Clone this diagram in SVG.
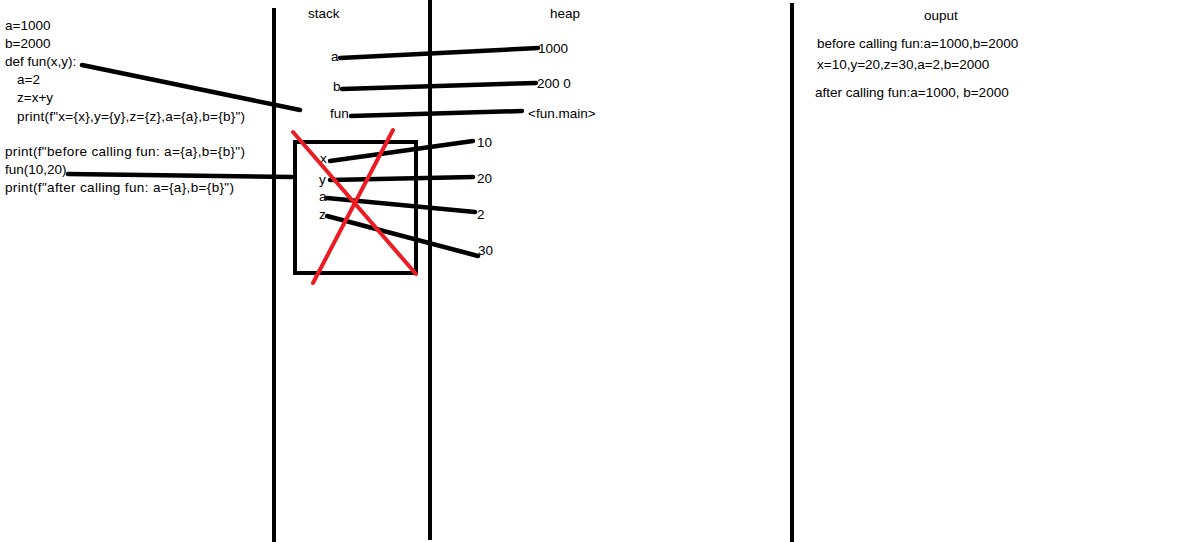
<svg xmlns="http://www.w3.org/2000/svg" width="1191" height="542" viewBox="0 0 1191 542">
<style>
text{font-family:"Liberation Sans",Arial,sans-serif;font-size:13.5px;fill:#000}
.k{stroke:#000;stroke-width:4.5;stroke-linecap:round;fill:none}
.v{stroke:#000;stroke-width:4;fill:none}
.r{stroke:#ed1c24;stroke-width:4;stroke-linecap:round;fill:none}
</style>
<rect width="1191" height="542" fill="#fff"/>
<g id="dividers">
<line class="v" x1="274" y1="8" x2="274" y2="542"/>
<line class="v" x1="430" y1="0" x2="430" y2="540"/>
<line class="v" x1="792" y1="3" x2="792" y2="542"/>
</g>
<g id="headers">
<text x="308" y="18">stack</text>
<text x="550" y="18">heap</text>
<text x="924" y="20">ouput</text>
</g>
<g id="code">
<text x="5" y="30">a=1000</text>
<text x="5" y="48">b=2000</text>
<text x="5" y="66">def fun(x,y):</text>
<text x="17" y="84">a=2</text>
<text x="17" y="102">z=x+y</text>
<text x="17" y="121" textLength="228" lengthAdjust="spacing">print(f"x={x},y={y},z={z},a={a},b={b}")</text>
<text x="5" y="156" textLength="240" lengthAdjust="spacing">print(f"before calling fun: a={a},b={b}")</text>
<text x="5" y="174">fun(10,20)</text>
<text x="5" y="192" textLength="229" lengthAdjust="spacing">print(f"after calling fun: a={a},b={b}")</text>
</g>
<g id="stack-frame">
<rect class="v" x="295" y="142" width="121" height="131"/>
<text x="320" y="163">x</text>
<text x="319" y="184">y</text>
<text x="319" y="201">a</text>
<text x="319" y="219">z</text>
</g>
<g id="stack-globals">
<text x="331" y="61">a</text>
<text x="333" y="91">b</text>
<text x="330" y="118">fun</text>
</g>
<g id="heap">
<text x="538" y="53">1000</text>
<text x="537" y="88">200 0</text>
<text x="528" y="118">&lt;fun.main&gt;</text>
<text x="477" y="147">10</text>
<text x="477" y="183">20</text>
<text x="477" y="219">2</text>
<text x="478" y="255">30</text>
</g>
<g id="output">
<text x="817" y="48">before calling fun:a=1000,b=2000</text>
<text x="817" y="69">x=10,y=20,z=30,a=2,b=2000</text>
<text x="815" y="97">after calling fun:a=1000, b=2000</text>
</g>
<g id="connectors">
<line class="k" x1="82" y1="65" x2="300" y2="110"/>
<line class="k" x1="68" y1="174" x2="292" y2="177"/>
<line class="k" x1="340" y1="58" x2="538" y2="48"/>
<line class="k" x1="342" y1="89" x2="536" y2="83"/>
<line class="k" x1="351" y1="116" x2="522" y2="111"/>
<line class="k" x1="330" y1="161" x2="473" y2="141"/>
<line class="k" x1="330" y1="180" x2="473" y2="177"/>
<line class="k" x1="327" y1="198" x2="475" y2="212"/>
<line class="k" x1="327" y1="216" x2="478" y2="256"/>
</g>
<g id="cross">
<line class="r" x1="293" y1="132" x2="416" y2="274"/>
<line class="r" x1="393" y1="130" x2="313" y2="283"/>
</g>
</svg>
